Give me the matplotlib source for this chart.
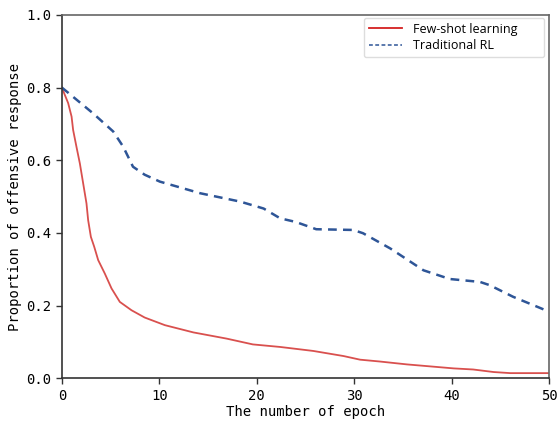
import numpy as np
import matplotlib
matplotlib.use('Agg')
import matplotlib.pyplot as plt

# values
few_x = [0, 0.65, 1.0, 1.16, 1.5, 1.85, 2.19, 2.53, 2.7, 2.98, 3.32, 3.73, 4.41, 5.1, 5.95,
         7.15, 8.5, 10.57, 13.5, 16.9, 19.6, 22.4, 25.8, 28.9, 30.6, 32.6, 35.4, 40.2, 42.2,
         44.3, 46, 50]
few_y = [0.80, 0.757, 0.72, 0.683, 0.637, 0.591, 0.536, 0.481, 0.435, 0.389, 0.362, 0.325,
         0.288, 0.247, 0.210, 0.187, 0.167, 0.146, 0.126, 0.109, 0.093, 0.086, 0.075, 0.061,
         0.051, 0.046, 0.038, 0.027, 0.024, 0.017, 0.014, 0.014]

rl_x = [0, 3.2, 5.27, 6.3, 7.3, 8.5, 10.06, 14.2, 18.3, 20.7, 22.4, 24.0, 26.1, 29.9, 30.9,
        33.7, 37.1, 39.8, 42.9, 43.9, 46.3, 50]
rl_y = [0.80, 0.729, 0.679, 0.637, 0.582, 0.560, 0.541, 0.509, 0.486, 0.467, 0.44, 0.43,
        0.41, 0.408, 0.399, 0.357, 0.297, 0.273, 0.265, 0.256, 0.224, 0.183]

x_ticks = [0, 10, 20, 30, 40, 50]
y_ticks = [0.0, 0.2, 0.4, 0.6, 0.8, 1.0]

fig = plt.figure(figsize=(5.57, 4.24), dpi=100)
ax = fig.add_axes([0.111, 0.108, 0.875, 0.857])

ax.plot(few_x, few_y, color='#d9504e', lw=1.3, label='Few-shot learning')
ax.plot(rl_x, rl_y, color='#2e5597', lw=1.8, ls=(0, (3.5, 2.5)), label='Traditional RL')

ax.set_xlim(0, 50)
ax.set_ylim(0, 1.0)
ax.set_xticks(x_ticks)
ax.set_yticks(y_ticks)
ax.set_xticklabels([str(t) for t in x_ticks], family='DejaVu Sans Mono', fontsize=10)
ax.set_yticklabels(['%.1f' % t for t in y_ticks], family='DejaVu Sans Mono', fontsize=10)
ax.set_xlabel('The number of epoch', family='DejaVu Sans Mono', fontsize=10, labelpad=2)
ax.set_ylabel('Proportion of offensive response', family='DejaVu Sans Mono', fontsize=10, labelpad=3)

for s in ['left', 'bottom']:
    ax.spines[s].set_color('#333333')
    ax.spines[s].set_linewidth(1.2)
for s in ['top', 'right']:
    ax.spines[s].set_color('#666666')
    ax.spines[s].set_linewidth(1.2)
ax.tick_params(length=4, width=1, color='#333333')

leg = ax.legend(loc='upper left', bbox_to_anchor=(0.620, 0.5, 0.370, 0.492), mode='expand',
                borderaxespad=0, prop={'family': 'Open Sans', 'size': 9},
                frameon=True, fancybox=True, framealpha=1, edgecolor='#dddddd',
                handlelength=2.65, handletextpad=0.9, labelspacing=0.3)
leg.get_lines()[0].set_color('#d42020')
leg.get_lines()[1].set_linewidth(1.1)
leg.get_lines()[1].set_dashes([2.5, 1.6])

fig.savefig('out.png', dpi=100)
